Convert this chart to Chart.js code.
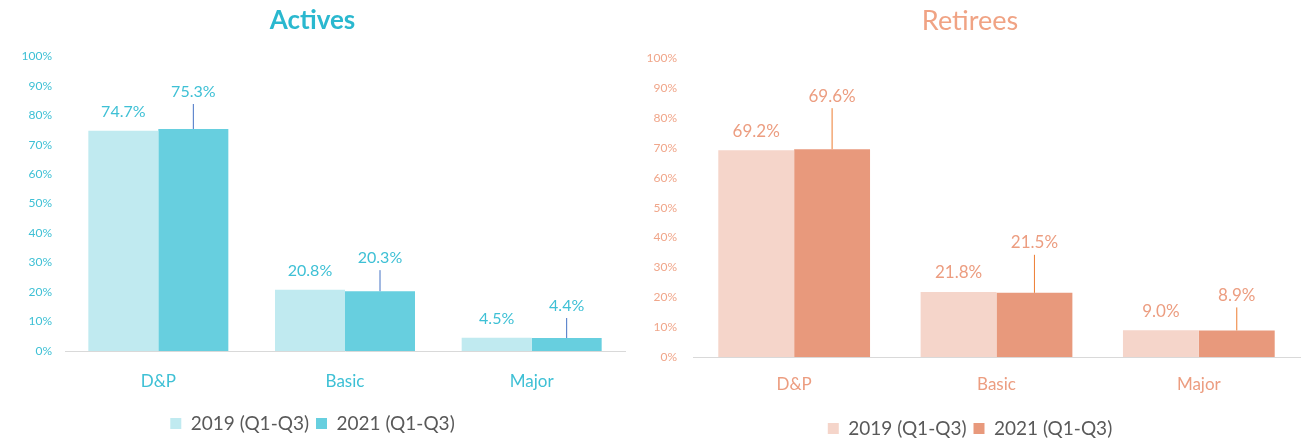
<!DOCTYPE html>
<html>
<head>
<meta charset="utf-8">
<script src="https://cdn.jsdelivr.net/npm/chart.js@4"></script>
<style>
  html, body { margin: 0; padding: 0; background: #fff; overflow: hidden; }
  #wrap { display: flex; width: 1312px; height: 439px; overflow: hidden; }
  .box { position: relative; }
  #left { width: 640px; height: 443px; }
  #right { width: 672px; height: 448px; }
</style>
</head>
<body>
<div id="wrap">
  <div class="box" id="left"><canvas id="actives"></canvas></div>
  <div class="box" id="right"><canvas id="retirees"></canvas></div>
</div>
<script>
// Data
const categories = ['D&P', 'Basic', 'Major'];
const seriesNames = ['2019 (Q1-Q3)', '2021 (Q1-Q3)'];
const activesData2019 = [74.7, 20.8, 4.5];
const activesData2021 = [75.3, 20.3, 4.4];
const retireesData2019 = [69.2, 21.8, 9.0];
const retireesData2021 = [69.6, 21.5, 8.9];
const yTicks = [0, 10, 20, 30, 40, 50, 60, 70, 80, 90, 100];

const FONT = "Lato, 'Open Sans', sans-serif";

// Draws value labels, second series raised with a small leader line
const valueLabels = {
  id: 'valueLabels',
  afterDatasetsDraw(chart, args, opts) {
    const ctx = chart.ctx;
    ctx.save();
    ctx.font = opts.size + 'px ' + FONT;
    ctx.textAlign = 'center';
    ctx.textBaseline = 'middle';
    chart.data.datasets.forEach((ds, di) => {
      const meta = chart.getDatasetMeta(di);
      meta.data.forEach((bar, i) => {
        const txt = ds.data[i].toFixed(1) + '%';
        ctx.fillStyle = opts.color;
        if (di === 0) {
          ctx.fillText(txt, bar.x, bar.y - 19);
        } else {
          const lift = opts.lift[i];
          ctx.fillText(txt, bar.x, bar.y - lift);
          ctx.strokeStyle = opts.lineColor;
          ctx.lineWidth = 1;
          ctx.beginPath();
          ctx.moveTo(bar.x, bar.y - lift + 12);
          ctx.lineTo(bar.x, bar.y);
          ctx.stroke();
        }
      });
    });
    ctx.restore();
  }
};

function makeChart(id, title, d1, d2, style) {
  return new Chart(document.getElementById(id), {
    type: 'bar',
    data: {
      labels: categories,
      datasets: [
        { label: seriesNames[0], data: d1, backgroundColor: style.light, categoryPercentage: 0.75, barPercentage: 1 },
        { label: seriesNames[1], data: d2, backgroundColor: style.dark, categoryPercentage: 0.75, barPercentage: 1 }
      ]
    },
    options: {
      responsive: true,
      maintainAspectRatio: false,
      animation: false,
      layout: { padding: { left: 0, right: style.padRight, top: 0, bottom: 0 } },
      scales: {
        x: {
          grid: { display: false },
          border: { display: true, color: '#d9d9d9', width: 1 },
          afterFit: s => { s.height = style.xHeight; },
          ticks: { color: style.text, font: { family: FONT, size: 17 }, padding: style.xPad }
        },
        y: {
          min: 0,
          max: 100,
          afterFit: s => { s.width = style.yWidth; },
          afterBuildTicks: s => { s.ticks = yTicks.map(v => ({ value: v })); },
          grid: { display: false },
          border: { display: false },
          ticks: {
            color: style.tick,
            font: { family: FONT, size: 12 },
            padding: style.tickPad,
            callback: v => v + '%'
          }
        }
      },
      plugins: {
        title: {
          display: true,
          text: title,
          color: style.title,
          font: { family: FONT, size: style.titleSize, weight: style.titleWeight },
          padding: { top: 5, bottom: style.titleGap }
        },
        legend: {
          position: 'bottom',
          labels: {
            color: '#595959',
            font: { family: FONT, size: 19 },
            boxWidth: 11,
            boxHeight: 11,
            padding: 7
          }
        },
        tooltip: { enabled: false },
        valueLabels: { color: style.text, lineColor: style.line, lift: style.lift, size: style.labelSize }
      }
    },
    plugins: [valueLabels]
  });
}

makeChart('actives', 'Actives', activesData2019, activesData2021, {
  light: '#c0eaf0', dark: '#67cfdf', text: '#3ec0d5', tick: '#3ec0d5',
  title: '#2ab8cf', titleWeight: 'bold', titleSize: 26, line: '#4472c4',
  yWidth: 65, tickPad: 5, padRight: 15, titleGap: 20,
  xHeight: 56, xPad: 12, labelSize: 16,
  lift: [37, 33, 32]
});

makeChart('retirees', 'Retirees', retireesData2019, retireesData2021, {
  light: '#f5d5ca', dark: '#e8997c', text: '#ec9d80', tick: '#f0a68a',
  title: '#f0a384', titleWeight: 'normal', titleSize: 27, line: '#ed7d31',
  yWidth: 53, tickPad: 8, padRight: 12, titleGap: 21,
  xHeight: 55, xPad: 9, labelSize: 17,
  lift: [53, 50, 35]
});
</script>
</body>
</html>
